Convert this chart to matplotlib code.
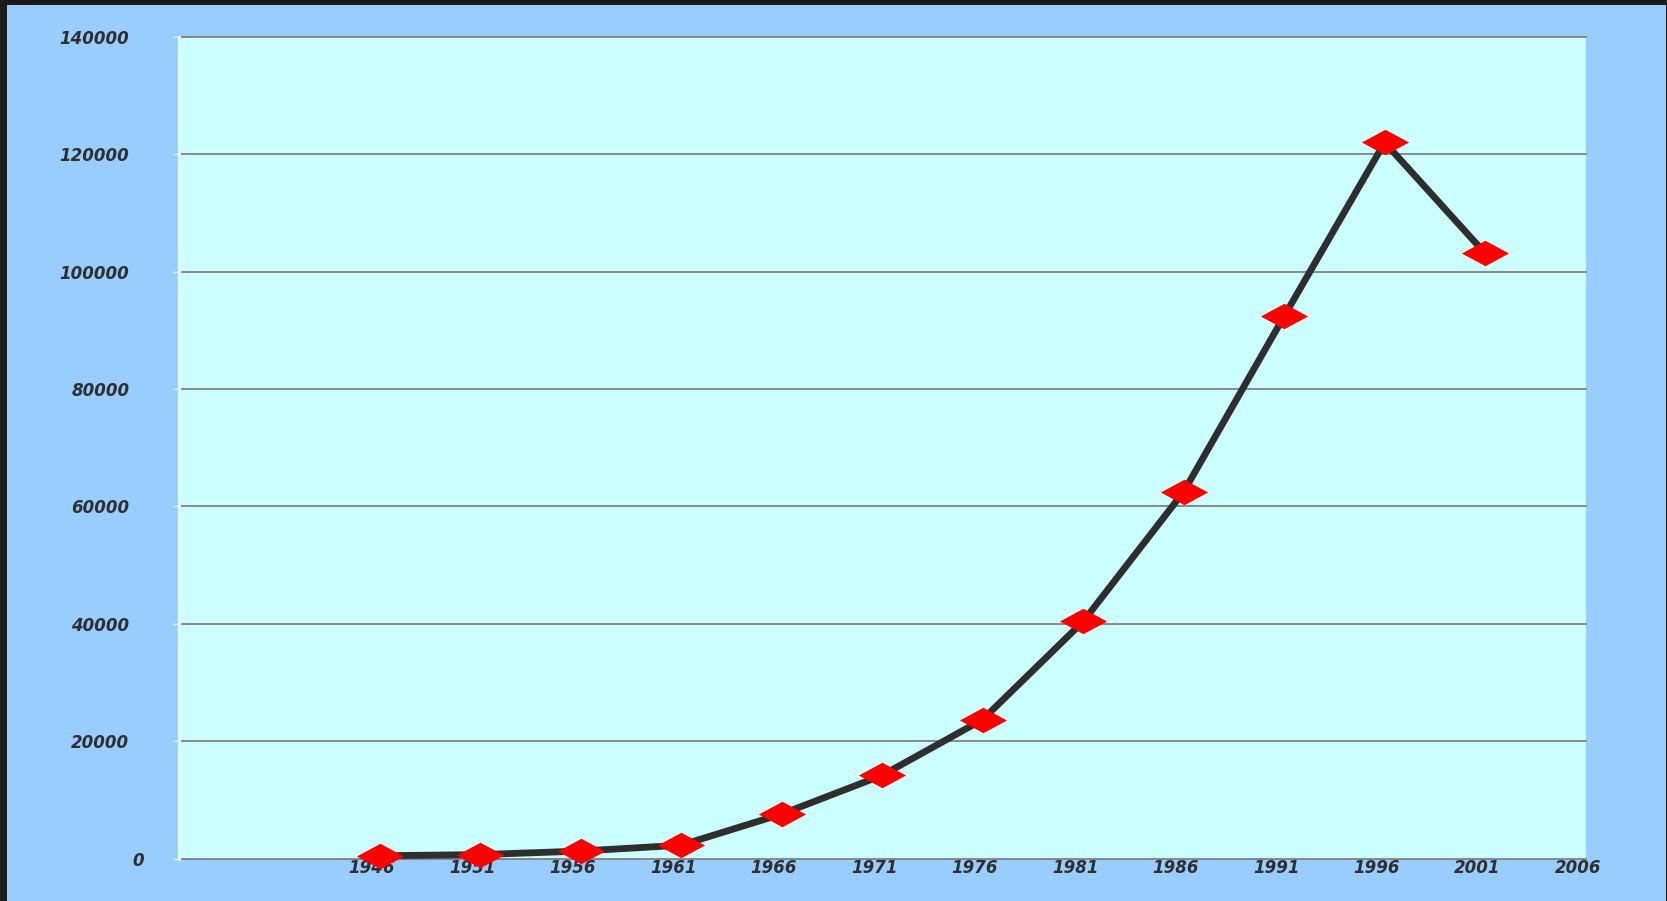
import matplotlib
matplotlib.use("Agg")
import matplotlib.pyplot as plt
from matplotlib.path import Path
from matplotlib.patches import Rectangle
from matplotlib.transforms import ScaledTranslation

# Series values (one point every five years)
years = [1946, 1951, 1956, 1961, 1966, 1971, 1976, 1981, 1986, 1991, 1996, 2001]
values = [500, 700, 1300, 2300, 7600, 14200, 23700, 40400, 62500, 92400, 122000, 103100]

# Axis ticks
x_ticks = [1946, 1951, 1956, 1961, 1966, 1971, 1976, 1981, 1986, 1991, 1996, 2001, 2006]
y_ticks = [0, 20000, 40000, 60000, 80000, 100000, 120000, 140000]

FIG_BG = "#1b1b1b"
PANEL = "#99ccff"
PLOT_BG = "#ccffff"
GRID = "#808080"
LINE = "#2e2e2e"
MARK = "#ff0000"
TEXT = "#2f2f2f"

W, H, DPI = 1667, 901, 100
fig = plt.figure(figsize=(W / DPI, H / DPI), dpi=DPI, facecolor=FIG_BG)

# Light-blue panel inside a thin dark frame
fig.patches.append(Rectangle((7 / W, 0), (1666 - 7) / W, (H - 5) / H,
                             transform=fig.transFigure, facecolor=PANEL,
                             edgecolor="none", zorder=-10))

left, right = 178.6 / W, 1585.7 / W
top, bottom = 1 - 36.7 / H, 1 - 858.7 / H
ax = fig.add_axes([left, bottom, right - left, top - bottom])
ax.set_zorder(1)
ax.set_facecolor(PLOT_BG)

ax.set_xlim(1936, 2006)
ax.set_ylim(0, 140000)

# Horizontal gridlines
for v in y_ticks:
    ax.axhline(v, color=GRID, lw=1.3, zorder=1, clip_on=False)

for s in ["top", "right", "bottom"]:
    ax.spines[s].set_visible(False)
ax.spines["left"].set_color("#e2ffff")
ax.spines["left"].set_linewidth(2.2)
ax.spines["left"].set_zorder(3)

# Wide flat diamond marker
diamond = Path([(-1, 0), (0, 0.54), (1, 0), (0, -0.54), (-1, 0)],
               [Path.MOVETO, Path.LINETO, Path.LINETO, Path.LINETO, Path.CLOSEPOLY])

ax.plot(years, values, color=LINE, lw=4.9, zorder=4, solid_joinstyle="miter",
        clip_on=False)
ax.plot(years, values, linestyle="none", marker=diamond, markersize=34,
        markerfacecolor=MARK, markeredgewidth=0, zorder=5, clip_on=False)

font = dict(family="DejaVu Sans", weight="bold", style="italic", size=12)

ax.set_yticks(y_ticks)
ax.set_yticklabels([str(v) for v in y_ticks], color=TEXT, **font)
ax.tick_params(axis="y", length=4.5, width=1.0, color="#d6f6ff", pad=31)

ax.set_xticks(x_ticks)
ax.set_xticklabels([str(v) for v in x_ticks], color=TEXT, **font)
ax.tick_params(axis="x", length=0, pad=0)

shift_x = ScaledTranslation(-8 / DPI, 0, fig.dpi_scale_trans)
for lab in ax.get_xticklabels():
    lab.set_transform(lab.get_transform() + shift_x)

shift_zero = ScaledTranslation(15 / DPI, 0, fig.dpi_scale_trans)
ylabs = ax.get_yticklabels()
ylabs[0].set_transform(ylabs[0].get_transform() + shift_zero)

fig.savefig("out.png", dpi=DPI, facecolor=FIG_BG)
